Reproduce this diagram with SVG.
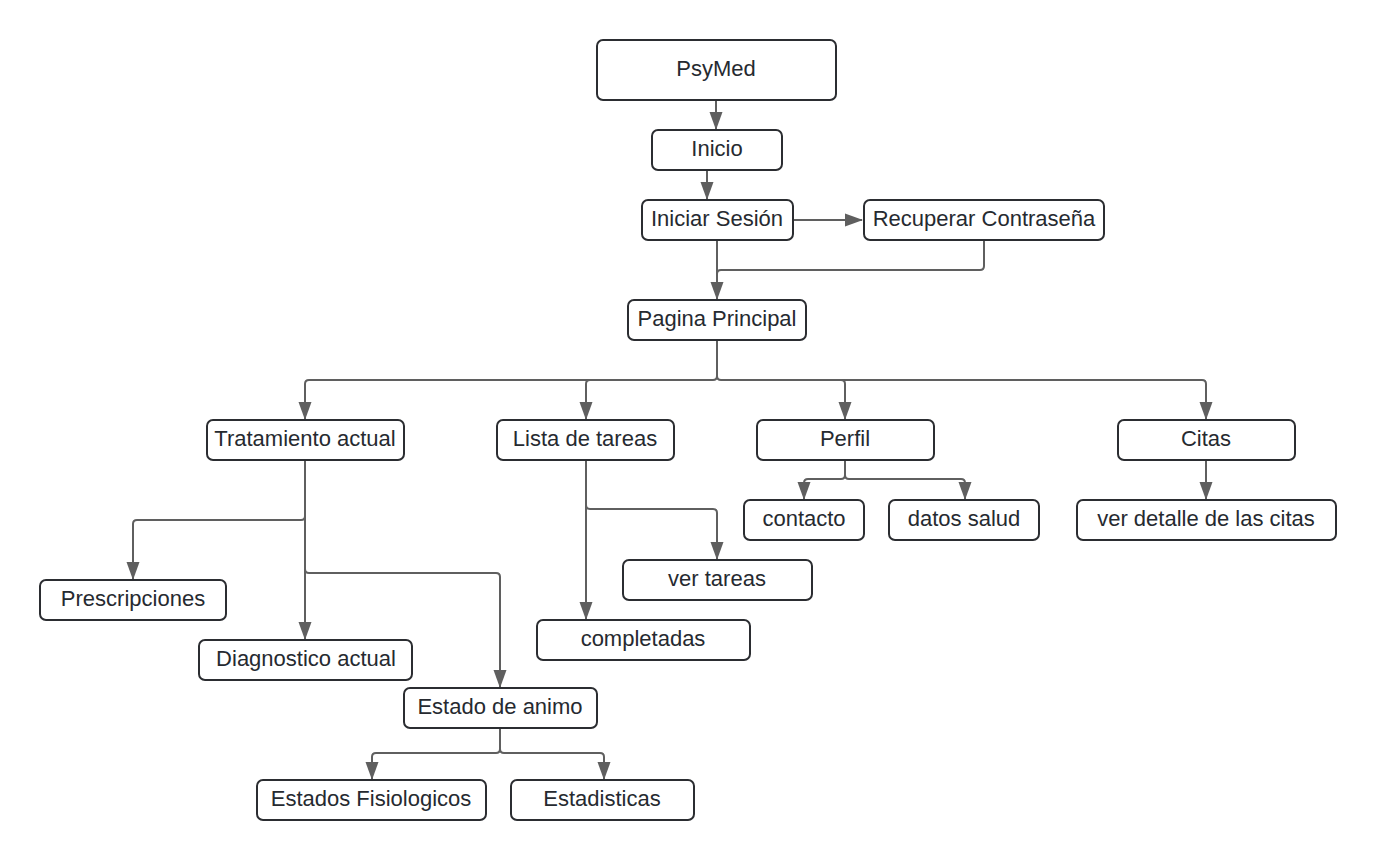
<svg xmlns="http://www.w3.org/2000/svg" width="1377" height="860" viewBox="0 0 1377 860">
<defs>
<style>
.box{fill:#ffffff;stroke:#2b2d31;stroke-width:2}
.lbl{font-family:"Liberation Sans",Arial,sans-serif;font-size:22px;fill:#262a30;text-anchor:middle}
.con{fill:none;stroke:#5f5f5f;stroke-width:2}
</style>
<marker id="ah" viewBox="0 0 18 14" markerWidth="9" markerHeight="7" refX="17" refY="7" orient="auto">
<path d="M0,0.5 L18,7 L0,13.5 z" fill="#5f5f5f"/>
</marker>
</defs>
<rect width="1377" height="860" fill="#ffffff"/>
<g id="connectors">
<path class="con" marker-end="url(#ah)" d="M716,101 V129"/>
<path class="con" marker-end="url(#ah)" d="M707,170 V199"/>
<path class="con" marker-end="url(#ah)" d="M793,220 H862"/>
<path class="con" marker-end="url(#ah)" d="M717,241 V299"/>
<path class="con" d="M984,241 V266 Q984,270 980,270 H721 Q717,270 717,274"/>
<path class="con" marker-end="url(#ah)" d="M717,341 V376 Q717,380 713,380 H309 Q305,380 305,384 V419"/>
<path class="con" marker-end="url(#ah)" d="M590,380 Q586,380 586,384 V419"/>
<path class="con" marker-end="url(#ah)" d="M717,341 V376 Q717,380 721,380 H1202 Q1206,380 1206,384 V419"/>
<path class="con" marker-end="url(#ah)" d="M841,380 Q845,380 845,384 V419"/>
<path class="con" marker-end="url(#ah)" d="M305,461 V516 Q305,520 301,520 H137 Q133,520 133,524 V579"/>
<path class="con" marker-end="url(#ah)" d="M305,461 V639"/>
<path class="con" marker-end="url(#ah)" d="M305,569 Q305,573 309,573 H496 Q500,573 500,577 V687"/>
<path class="con" marker-end="url(#ah)" d="M586,461 V619"/>
<path class="con" marker-end="url(#ah)" d="M586,505 Q586,509 590,509 H713 Q717,509 717,513 V559"/>
<path class="con" marker-end="url(#ah)" d="M845,461 V475 Q845,479 841,479 H808 Q804,479 804,483 V499"/>
<path class="con" marker-end="url(#ah)" d="M845,475 Q845,479 849,479 H961 Q965,479 965,483 V499"/>
<path class="con" marker-end="url(#ah)" d="M1206,461 V499"/>
<path class="con" marker-end="url(#ah)" d="M500,729 V749 Q500,753 496,753 H376 Q372,753 372,757 V779"/>
<path class="con" marker-end="url(#ah)" d="M500,749 Q500,753 504,753 H600 Q604,753 604,757 V779"/>
</g>
<g id="psymed"><rect class="box" x="597" y="40" width="239" height="60" rx="6"/><text class="lbl" x="716" y="76">PsyMed</text></g>
<g id="inicio"><rect class="box" x="652" y="130" width="130" height="40" rx="6"/><text class="lbl" x="717" y="155.5">Inicio</text></g>
<g id="iniciar-sesion"><rect class="box" x="642" y="200" width="151" height="40" rx="6"/><text class="lbl" x="717" y="225.5">Iniciar Sesión</text></g>
<g id="recuperar"><rect class="box" x="864" y="200" width="240" height="40" rx="6"/><text class="lbl" x="984" y="225.5">Recuperar Contraseña</text></g>
<g id="pagina-principal"><rect class="box" x="628" y="300" width="178" height="40" rx="6"/><text class="lbl" x="717" y="325.5">Pagina Principal</text></g>
<g id="tratamiento"><rect class="box" x="207" y="420" width="197" height="40" rx="6"/><text class="lbl" x="305" y="445.5">Tratamiento actual</text></g>
<g id="lista-tareas"><rect class="box" x="497" y="420" width="177" height="40" rx="6"/><text class="lbl" x="585" y="445.5">Lista de tareas</text></g>
<g id="perfil"><rect class="box" x="757" y="420" width="177" height="40" rx="6"/><text class="lbl" x="845" y="445.5">Perfil</text></g>
<g id="citas"><rect class="box" x="1118" y="420" width="177" height="40" rx="6"/><text class="lbl" x="1206" y="445.5">Citas</text></g>
<g id="contacto"><rect class="box" x="744" y="500" width="120" height="40" rx="6"/><text class="lbl" x="804" y="525.5">contacto</text></g>
<g id="datos-salud"><rect class="box" x="889" y="500" width="150" height="40" rx="6"/><text class="lbl" x="964" y="525.5">datos salud</text></g>
<g id="ver-detalle"><rect class="box" x="1077" y="500" width="259" height="40" rx="6"/><text class="lbl" x="1206" y="525.5">ver detalle de las citas</text></g>
<g id="ver-tareas"><rect class="box" x="623" y="560" width="189" height="40" rx="6"/><text class="lbl" x="717" y="585.5">ver tareas</text></g>
<g id="completadas"><rect class="box" x="537" y="620" width="213" height="40" rx="6"/><text class="lbl" x="643" y="645.5">completadas</text></g>
<g id="prescripciones"><rect class="box" x="40" y="580" width="186" height="40" rx="6"/><text class="lbl" x="133" y="605.5">Prescripciones</text></g>
<g id="diagnostico"><rect class="box" x="199" y="640" width="213" height="40" rx="6"/><text class="lbl" x="306" y="665.5">Diagnostico actual</text></g>
<g id="estado-animo"><rect class="box" x="404" y="688" width="193" height="40" rx="6"/><text class="lbl" x="500" y="713.5">Estado de animo</text></g>
<g id="estados-fisiologicos"><rect class="box" x="257" y="780" width="229" height="40" rx="6"/><text class="lbl" x="371" y="805.5">Estados Fisiologicos</text></g>
<g id="estadisticas"><rect class="box" x="511" y="780" width="183" height="40" rx="6"/><text class="lbl" x="602" y="805.5">Estadisticas</text></g>
</svg>
